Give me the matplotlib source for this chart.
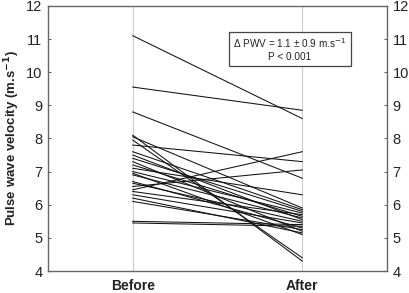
import matplotlib
matplotlib.use("Agg")
import matplotlib.pyplot as plt

plt.rcParams['font.family'] = ['Liberation Sans', 'DejaVu Sans']

categories = ["Before", "After"]
before = [11.1, 9.55, 8.8, 8.1, 7.95, 7.8, 6.45, 6.55, 7.1, 5.5, 5.45,
          8.05, 7.6, 7.5, 7.4, 7.3, 7.2, 7.0, 6.95, 6.9, 6.7, 6.65, 6.4, 6.3, 6.2, 6.1]
after = [8.6, 8.85, 6.8, 4.3, 4.4, 7.3, 7.6, 7.05, 6.3, 5.4, 5.35,
         5.9, 5.85, 5.55, 5.8, 5.2, 5.65, 5.75, 5.1, 5.6, 5.3, 5.5, 5.7, 5.45, 5.15, 5.25]
yticks = [4, 5, 6, 7, 8, 9, 10, 11, 12]

fig = plt.figure(figsize=(4.10, 2.93), dpi=100)
ax = fig.add_axes([0.117, 0.075, 0.827, 0.905])

for b, a in zip(before, after):
    ax.plot([1, 2], [b, a], color='#111111', lw=0.75)

ax.set_xlim(0.5, 2.5)
ax.set_ylim(4, 12)
ax.set_xticks([1, 2])
ax.set_xticklabels(categories, fontweight='bold', fontsize=10)
ax.set_yticks(yticks)
ax.set_yticklabels([str(t) for t in yticks], fontsize=10.5, color='#222222')
ax.tick_params(axis='y', direction='in', length=2.5, color='#666666',
               right=True, labelright=True, pad=4)
ax.tick_params(axis='x', length=0, pad=6)
for t in ax.get_xticklabels():
    t.set_color('#222222')
ax.xaxis.grid(True, color='#cccccc', lw=0.8)
ax.set_axisbelow(True)
for s in ax.spines.values():
    s.set_color('#666666')
    s.set_linewidth(1.0)

ax.set_ylabel('Pulse wave velocity (m.s$^{\\mathbf{-1}}$)', fontweight='bold',
              fontsize=9.5, color='#222222')
ax.yaxis.set_label_coords(-0.078, 0.5)

ax.text(0.714, 0.838, 'Δ PWV = 1.1 ± 0.9 m.s$^{-1}$\nP < 0.001', transform=ax.transAxes,
        ha='center', va='center', fontsize=7.2, color='#222222', linespacing=1.2,
        bbox=dict(boxstyle='square,pad=0.42', fc='white', ec='#444444', lw=0.9))

fig.savefig('out.png', dpi=100)
